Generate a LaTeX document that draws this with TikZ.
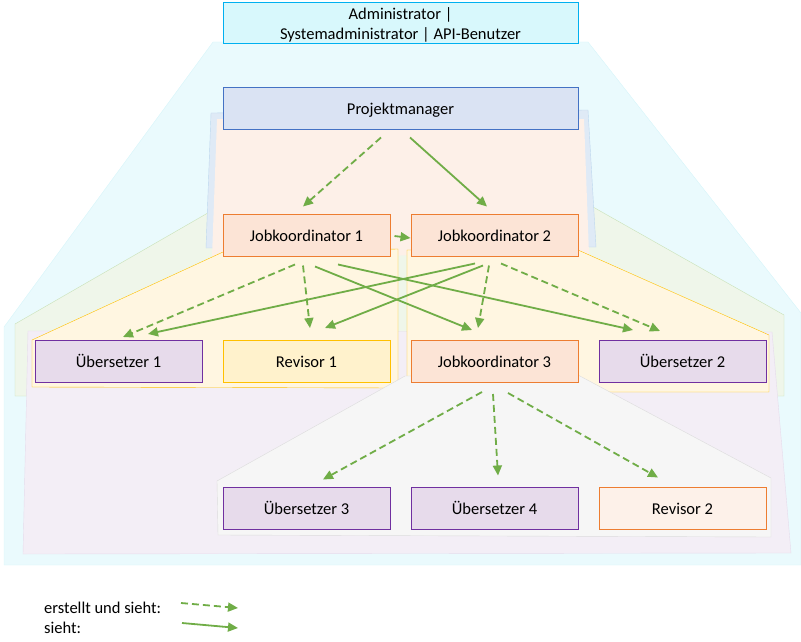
\documentclass[tikz,border=0pt]{standalone}
\usepackage{fontspec}
\setmainfont{Carlito}
\usetikzlibrary{arrows.meta}
\definecolor{arrowgreen}{HTML}{70AD47}
\definecolor{cyanfill}{HTML}{EAFAFD}
\definecolor{cyanline}{HTML}{D6F5FA}
\definecolor{adminfill}{HTML}{D8F8FC}
\definecolor{adminline}{HTML}{00B0F0}
\definecolor{pmfill}{HTML}{DAE3F3}
\definecolor{pmline}{HTML}{4472C4}
\definecolor{bluefill}{HTML}{DFEAF6}
\definecolor{blueline}{HTML}{BDD7EE}
\definecolor{peachfill}{HTML}{FDF0E8}
\definecolor{greenfill}{HTML}{EFF6EA}
\definecolor{greenline}{HTML}{C9E2B8}
\definecolor{yellowfill}{HTML}{FFF6E1}
\definecolor{yellowline}{HTML}{FFC000}
\definecolor{lilacfill}{HTML}{F3EEF6}
\definecolor{lilacline}{HTML}{E6DCEC}
\definecolor{greyfill}{HTML}{F6F6F6}
\definecolor{greyline}{HTML}{DCDCDC}
\definecolor{jkfill}{HTML}{FCE4D6}
\definecolor{jkline}{HTML}{ED7D31}
\definecolor{uefill}{HTML}{E7DBEB}
\definecolor{ueline}{HTML}{7030A0}
\definecolor{revfill}{HTML}{FFF2CC}
\definecolor{revtwofill}{HTML}{FDF1E9}
\tikzset{
	box/.style={draw, line width=1pt, minimum width=167pt, minimum height=42pt, inner sep=0pt, text height=14pt, text depth=2pt, font=\fontsize{16.5}{20}\selectfont},
	widebox/.style={box, minimum width=355pt, minimum height=41pt, align=center},
	adminbox/.style={widebox, text height=34pt, fill=adminfill, draw=adminline},
	jobk/.style={box, fill=jkfill, draw=jkline},
	uebers/.style={box, fill=uefill, draw=ueline},
	sees/.style={draw=arrowgreen, line width=1.8pt, -{Triangle[length=10pt,width=9pt]}},
	creates/.style={sees, dash pattern=on 7pt off 4pt},
	legend/.style={anchor=west, inner sep=0pt, text height=14pt, text depth=2pt, font=\fontsize{16.5}{20}\selectfont}
}
\begin{document}
\begin{tikzpicture}[x=1pt,y=-1pt]
				\useasboundingbox (0,0) rectangle (801,642);
				%
				\filldraw[fill=cyanfill, draw=cyanline] (213,42) -- (588,42) -- (801,313) -- (801,565) -- (4,565) -- (4,327) -- cycle;
				\filldraw[fill=greenfill, draw=greenline] (213,210) -- (593,207) -- (784,315) -- (784,396) -- (15,396) -- (15,324) -- cycle;
				\filldraw[fill=bluefill, draw=blueline] (211,113) -- (588,110) -- (596,247) -- (206,248) -- cycle;
				\fill[peachfill] (217,119) -- (584,119) -- (589,254) -- (212,257) -- cycle;
				\filldraw[fill=lilacfill, draw=lilacline] (28,331) -- (772,332) -- (791,553) -- (23,554) -- cycle;
				\filldraw[fill=yellowfill, draw=yellowline] (223,252) -- (398,249) -- (398,388) -- (32,387) -- (32,340) -- cycle;
				\filldraw[fill=yellowfill, draw=yellowline] (407,250) -- (578,250) -- (769,335) -- (769,392) -- (407,392) -- cycle;
				\filldraw[fill=greyfill, draw=greyline] (405,376) -- (578,375) -- (771,478) -- (771,537) -- (218,535) -- (217,481) -- cycle;
				%
				\node (admin) [adminbox] at (400.5,23.5) {Administrator |\\Systemadministrator | API-Benutzer};
				\node (pm) [widebox, fill=pmfill, draw=pmline] at (400.5,108.5) {Projektmanager};
				%
				\node (jk1) [jobk] at (306.5,235) {Jobkoordinator 1};
				\node (jk2) [jobk] at (494.5,235) {Jobkoordinator 2};
				\node (ue1) [uebers] at (118.5,361.5) {Übersetzer 1};
				\node (rev1) [box, fill=revfill, draw=yellowline] at (306.5,361.5) {Revisor 1};
				\node (jk3) [jobk] at (494.5,361.5) {Jobkoordinator 3};
				\node (ue2) [uebers] at (682.5,361.5) {Übersetzer 2};
				\node (ue3) [uebers] at (306.5,508) {Übersetzer 3};
				\node (ue4) [uebers] at (494.5,508) {Übersetzer 4};
				\node (rev2) [box, fill=revtwofill, draw=jkline] at (682.5,508) {Revisor 2};
				%
				\draw[creates] ([shift={(-19.5,8)}]pm.south) -- ([shift={(-3.5,-7)}]jk1.north);
				\draw[sees] ([shift={(9.5,8)}]pm.south) -- ([shift={(-7.5,-7)}]jk2.north);
				\draw[creates] ([shift={(4,1)}]jk1.east) -- ([shift={(0,3)}]jk2.west);
				%
				\draw[creates] ([shift={(-11.5,8)}]jk1.south) -- ([shift={(4.5,-3)}]ue1.north);
				\draw[creates] ([shift={(-3.5,9)}]jk1.south) -- ([shift={(3.5,-12)}]rev1.north);
				\draw[sees] ([shift={(8.5,10)}]jk1.south) -- ([shift={(-22.5,-10)}]jk3.north);
				\draw[sees] ([shift={(31.5,8)}]jk1.south) -- ([shift={(-49.5,-10)}]ue2.north);
				\draw[sees] ([shift={(-19.5,7)}]jk2.south) -- ([shift={(29.5,-6)}]ue1.north);
				\draw[sees] ([shift={(-11.5,9)}]jk2.south) -- ([shift={(18.5,-12)}]rev1.north);
				\draw[creates] ([shift={(-5.5,9)}]jk2.south) -- ([shift={(-16.5,-12)}]jk3.north);
				\draw[creates] ([shift={(6.5,7)}]jk2.south) -- ([shift={(-22.5,-9)}]ue2.north);
				%
				\draw[creates] ([shift={(-12.5,9)}]jk3.south) -- ([shift={(16.5,-7)}]ue3.north);
				\draw[creates] ([shift={(-1.5,11)}]jk3.south) -- ([shift={(3.5,-11)}]ue4.north);
				\draw[creates] ([shift={(13.5,10)}]jk3.south) -- ([shift={(-24.5,-9)}]rev2.north);
				%
				\node (lg1) [legend] at (44,607) {erstellt und sieht:};
				\node (lg2) [legend] at (44,627) {sieht:};
				\coordinate (lg1a) at (181,603);
				\coordinate (lg1b) at (238,608);
				\coordinate (lg2a) at (182,623);
				\coordinate (lg2b) at (238,628);
				\draw[creates] (lg1a) -- (lg1b);
				\draw[sees] (lg2a) -- (lg2b);
\end{tikzpicture}
\end{document}
